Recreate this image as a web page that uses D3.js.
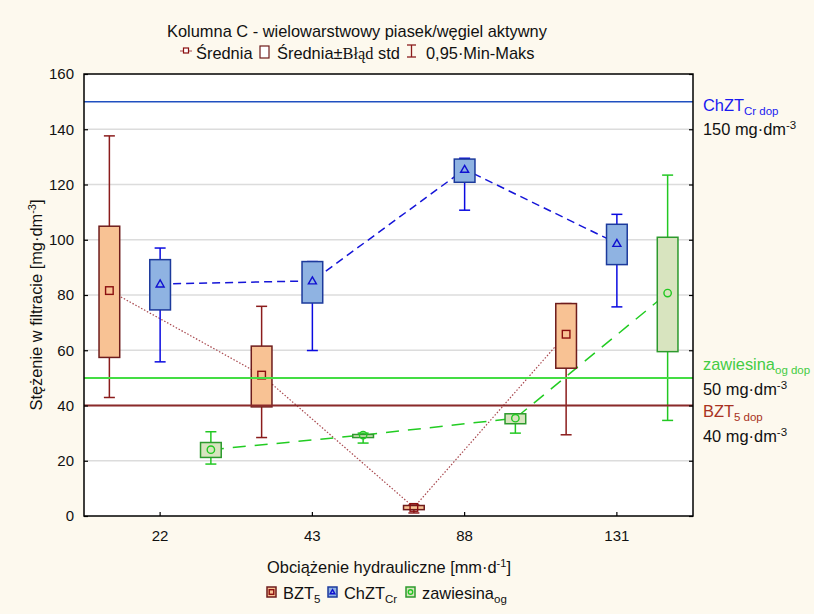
<!DOCTYPE html>
<meta charset="utf-8">
<script src="https://d3js.org/d3.v7.min.js"></script>
<style>
body { margin:0; background:#fdf9ee; }
svg { font-family:"Liberation Sans", Arial, sans-serif; display:block; }
.tick text { font-size:15px; fill:#111; }
</style>
<body></body>
<script>

// categories and series
var categories = ["22", "43", "88", "131"];
var series = ["BZT5", "ChZTCr", "zawiesina"];

// BZT5
var bztMean  = [81.6, 51.0, 3.1, 65.8];
var bztLo    = [57.4, 39.5, 2.3, 53.5];
var bztHi    = [104.9, 61.5, 3.8, 76.9];
var bztMin   = [42.9, 28.4, 1.1, 29.4];
var bztMax   = [137.6, 75.9, 4.0, 76.9];

// ChZT Cr
var chztMean = [84.0, 85.1, 125.5, 98.7];
var chztLo   = [74.6, 77.1, 120.8, 91.0];
var chztHi   = [92.8, 92.1, 129.2, 105.6];
var chztMin  = [55.8, 59.9, 110.7, 75.7];
var chztMax  = [97.0, 92.1, 129.5, 109.2];

// zawiesina og
var zawMean  = [24.0, 29.3, 35.4, 80.7];
var zawLo    = [21.2, 28.4, 33.4, 59.5];
var zawHi    = [26.6, 29.5, 37.0, 100.9];
var zawMin   = [18.8, 26.4, 30.0, 34.6];
var zawMax   = [30.5, 30.0, 37.0, 123.4];

// permitted limits
var limitValues = [150, 50, 40];
var yTicks = [0, 20, 40, 60, 80, 100, 120, 140, 160];

var W = 814, H = 614;
var margin = {top: 74, right: 121, bottom: 98, left: 84};
var width = W - margin.left - margin.right,
    height = H - margin.top - margin.bottom;
var fs = 16.4;

var styles = {
  BZT5:      {fill:"#f8c294", stroke:"#6e1c1c", whisk:"#8b1c1c", line:"#a8484e", dash:"1.5,1.8", lw:1.2},
  ChZTCr:    {fill:"#8fb3e2", stroke:"#1c3a9c", whisk:"#0a0ae0", line:"#1515d8", dash:"8,5", lw:1.5},
  zawiesina: {fill:"#d8e4bf", stroke:"#2d9a2d", whisk:"#22c822", line:"#22cc22", dash:"13,9", lw:1.5}
};

var data = [
  {key:"BZT5", mean:bztMean, lo:bztLo, hi:bztHi, min:bztMin, max:bztMax},
  {key:"ChZTCr", mean:chztMean, lo:chztLo, hi:chztHi, min:chztMin, max:chztMax},
  {key:"zawiesina", mean:zawMean, lo:zawLo, hi:zawHi, min:zawMin, max:zawMax}
];

var svg0 = d3.select('body').append('svg')
  .attr('width', W).attr('height', H);

svg0.append('rect').attr('width', W).attr('height', H).attr('fill', '#fdf9ee');

var svg = svg0.append('g')
  .attr('transform', 'translate(' + margin.left + ',' + margin.top + ')');

svg.append('rect').attr('width', width).attr('height', height).attr('fill', '#fff');

// scales
var x = d3.scaleBand().domain(categories).range([0, width]);
var xs = d3.scaleBand().domain(series).range([0, x.bandwidth()]);
var y = d3.scaleLinear().domain([0, 160]).range([height, 0]);

function cx(cat, s) { return x(cat) + xs(s) + xs.bandwidth() / 2; }

// gridlines
svg.append('g').selectAll('line')
  .data(yTicks.slice(1, -1))
  .enter().append('line')
  .attr('x1', 0).attr('x2', width)
  .attr('y1', function(d) { return y(d); })
  .attr('y2', function(d) { return y(d); })
  .attr('stroke', '#dcdcdc').attr('stroke-width', 1.5);

// mean lines
data.forEach(function(s) {
  var st = styles[s.key];
  var line = d3.line()
    .x(function(d, i) { return cx(categories[i], s.key); })
    .y(function(d) { return y(d); });
  svg.append('path')
    .attr('d', line(s.mean))
    .attr('fill', 'none')
    .attr('stroke', st.line)
    .attr('stroke-width', st.lw)
    .attr('stroke-dasharray', st.dash);
});

// boxes
var bw = 20.7, cap = 11;
data.forEach(function(s) {
  var st = styles[s.key];
  var g = svg.append('g');
  categories.forEach(function(c, i) {
    var xc = cx(c, s.key);
    g.append('line').attr('x1', xc).attr('x2', xc)
      .attr('y1', y(s.min[i])).attr('y2', y(s.max[i]))
      .attr('stroke', st.whisk).attr('stroke-width', 1.5);
    [s.min[i], s.max[i]].forEach(function(v) {
      g.append('line').attr('x1', xc - cap / 2).attr('x2', xc + cap / 2)
        .attr('y1', y(v)).attr('y2', y(v))
        .attr('stroke', st.whisk).attr('stroke-width', 1.5);
    });
    g.append('rect')
      .attr('x', xc - bw / 2).attr('width', bw)
      .attr('y', y(s.hi[i])).attr('height', Math.max(1, y(s.lo[i]) - y(s.hi[i])))
      .attr('fill', st.fill).attr('stroke', st.stroke).attr('stroke-width', 1.5);
  });
});

// mean markers
function marker(g, key, xc, yc, sc) {
  sc = sc || 1;
  if (key === "BZT5") {
    g.append('rect').attr('x', xc - 3.8 * sc).attr('y', yc - 3.8 * sc)
      .attr('width', 7.6 * sc).attr('height', 7.6 * sc)
      .attr('fill', 'none').attr('stroke', '#8b0f0f').attr('stroke-width', 1.4);
  } else if (key === "ChZTCr") {
    g.append('path')
      .attr('d', 'M' + xc + ',' + (yc - 4 * sc) + 'L' + (xc + 4 * sc) + ',' + (yc + 3 * sc) + 'L' + (xc - 4 * sc) + ',' + (yc + 3 * sc) + 'Z')
      .attr('fill', 'none').attr('stroke', '#1010d0').attr('stroke-width', 1.4);
  } else {
    g.append('circle').attr('cx', xc).attr('cy', yc).attr('r', 3.7 * sc)
      .attr('fill', 'none').attr('stroke', '#22c822').attr('stroke-width', 1.4);
  }
}
var mg = svg.append('g');
data.forEach(function(s) {
  categories.forEach(function(c, i) { marker(mg, s.key, cx(c, s.key), y(s.mean[i])); });
});

// limit lines
var limitColors = ["#2050c0", "#44dd44", "#8b2a2a"];
var limitWidths = [1.5, 2, 2];
svg.append('g').selectAll('line')
  .data(limitValues)
  .enter().append('line')
  .attr('x1', 0).attr('x2', width)
  .attr('y1', function(d) { return y(d); })
  .attr('y2', function(d) { return y(d); })
  .attr('stroke', function(d, i) { return limitColors[i]; })
  .attr('stroke-width', function(d, i) { return limitWidths[i]; });

// axes
var yAxis = d3.axisLeft(y).tickValues(yTicks).tickSizeInner(-4).tickSizeOuter(0).tickPadding(10);
svg.append('g').attr('class', 'y axis').call(yAxis)
  .call(function(g) { g.select('.domain').remove(); });
var yAxisR = d3.axisRight(y).tickValues(yTicks).tickSizeInner(-4).tickSizeOuter(0).tickFormat('');
svg.append('g').attr('transform', 'translate(' + width + ',0)').call(yAxisR)
  .call(function(g) { g.select('.domain').remove(); });
var xAxis = d3.axisBottom(x).tickSizeInner(-4).tickSizeOuter(0).tickPadding(14);
svg.append('g').attr('class', 'x axis').attr('transform', 'translate(0,' + height + ')').call(xAxis)
  .call(function(g) { g.select('.domain').remove(); });
svg.selectAll('.tick line').attr('stroke', '#000').attr('stroke-width', 1.2);

svg.append('rect').attr('width', width).attr('height', height)
  .attr('fill', 'none').attr('stroke', '#000').attr('stroke-width', 1.5);

// title and top legend
svg0.append('text').attr('x', 357).attr('y', 37).attr('text-anchor', 'middle')
  .attr('font-size', fs).attr('fill', '#111')
  .text('Kolumna C - wielowarstwowy piasek/węgiel aktywny');

var tl = svg0.append('g').attr('font-size', fs).attr('fill', '#111');
tl.append('line').attr('x1', 180).attr('x2', 192).attr('y1', 51).attr('y2', 51)
  .attr('stroke', '#a8484e').attr('stroke-width', 1);
tl.append('rect').attr('x', 183.5).attr('y', 48).attr('width', 5).attr('height', 5)
  .attr('fill', '#fff').attr('stroke', '#8b0f0f').attr('stroke-width', 1.2);
tl.append('text').attr('x', 196).attr('y', 59).text('Średnia');
tl.append('rect').attr('x', 260).attr('y', 46).attr('width', 9).attr('height', 12)
  .attr('fill', '#fff').attr('stroke', '#6e1c1c').attr('stroke-width', 1.2);
var t2 = tl.append('text').attr('x', 277).attr('y', 59);
t2.append('tspan').text('Średnia±');
t2.append('tspan').attr('font-family', '"Liberation Serif", serif').text('Błąd');
t2.append('tspan').text(' std');
tl.append('line').attr('x1', 411.5).attr('x2', 411.5).attr('y1', 45).attr('y2', 57).attr('stroke', '#8b1c1c').attr('stroke-width', 1.3);
tl.append('line').attr('x1', 407).attr('x2', 416).attr('y1', 45).attr('y2', 45).attr('stroke', '#8b1c1c').attr('stroke-width', 1.3);
tl.append('line').attr('x1', 407).attr('x2', 416).attr('y1', 57).attr('y2', 57).attr('stroke', '#8b1c1c').attr('stroke-width', 1.3);
tl.append('text').attr('x', 426).attr('y', 59).text('0,95·Min-Maks');

// axis titles
var yl = svg0.append('text').attr('transform', 'translate(42,305) rotate(-90)')
  .attr('text-anchor', 'middle').attr('font-size', fs).attr('fill', '#111');
yl.append('tspan').text('Stężenie w filtracie [mg·dm');
yl.append('tspan').attr('dy', -6).attr('font-size', 11).text('-3');
yl.append('tspan').attr('dy', 6).text(']');

var xl = svg0.append('text').attr('x', 389).attr('y', 573)
  .attr('text-anchor', 'middle').attr('font-size', fs).attr('fill', '#111');
xl.append('tspan').text('Obciążenie hydrauliczne [mm·d');
xl.append('tspan').attr('dy', -6).attr('font-size', 11).text('-1');
xl.append('tspan').attr('dy', 6).text(']');

// limit labels on the right
function subLabel(xp, yp, main, sub, color) {
  var t = svg0.append('text').attr('x', xp).attr('y', yp).attr('font-size', fs).attr('fill', color);
  t.append('tspan').text(main);
  t.append('tspan').attr('dy', 4).attr('font-size', 11.5).text(sub);
  return t;
}
function supLabel(xp, yp, main, sup) {
  var t = svg0.append('text').attr('x', xp).attr('y', yp).attr('font-size', fs).attr('fill', '#111');
  t.append('tspan').text(main);
  t.append('tspan').attr('dy', -6).attr('font-size', 11.5).text(sup);
  return t;
}
subLabel(703, 111, 'ChZT', 'Cr dop', '#1a1af0');
supLabel(703, 135, '150 mg·dm', '-3');
subLabel(703, 370, 'zawiesina', 'og dop', '#44cc44');
supLabel(703, 395, '50 mg·dm', '-3');
subLabel(703, 417, 'BZT', '5 dop', '#a83222');
supLabel(703, 442, '40 mg·dm', '-3');

// bottom legend
var lg = svg0.append('g');
var legendItems = [
  {key:"BZT5", x:267, tx:283, main:"BZT", sub:"5"},
  {key:"ChZTCr", x:328, tx:344, main:"ChZT", sub:"Cr"},
  {key:"zawiesina", x:406, tx:422, main:"zawiesina", sub:"og"}
];
legendItems.forEach(function(d) {
  var st = styles[d.key];
  lg.append('rect').attr('x', d.x).attr('y', 587).attr('width', 9).attr('height', 10)
    .attr('fill', st.fill).attr('stroke', st.stroke).attr('stroke-width', 1.5);
  marker(lg, d.key, d.x + 4.5, 592, 0.6);
  var t = lg.append('text').attr('x', d.tx).attr('y', 599).attr('font-size', fs).attr('fill', '#111');
  t.append('tspan').text(d.main);
  t.append('tspan').attr('dy', 4).attr('font-size', 11.5).text(d.sub);
});

</script>
